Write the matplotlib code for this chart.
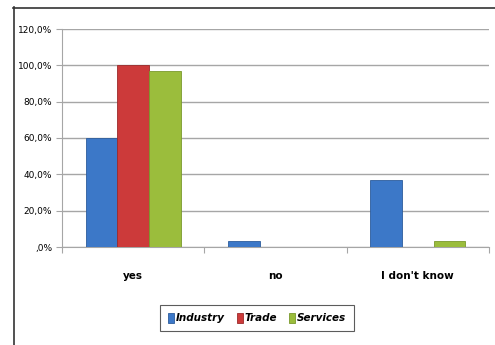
import numpy as np
import matplotlib.pyplot as plt
from matplotlib.lines import Line2D
from matplotlib.ticker import FuncFormatter

categories = ['yes', 'no', "I don't know"]
series_names = ['Industry', 'Trade', 'Services']
industry = [60.0, 3.3, 36.7]
trade = [100.0, 0.0, 0.0]
services = [96.7, 0.0, 3.3]
y_ticks = [0, 20, 40, 60, 80, 100, 120]

colors = ['#3c78c8', '#cc3a3a', '#9bbd3c']
edges = ['#2c5c9c', '#9c2a2a', '#7a9a2c']

W, H = 495, 345
fig = plt.figure(figsize=(W / 100, H / 100), dpi=100)
ax = fig.add_axes([62 / W, 1 - 247 / H, 427 / W, 218 / H])

x = np.arange(len(categories))
bw = 0.222
for i, (vals, c, e) in enumerate(zip([industry, trade, services], colors, edges)):
    ax.bar(x + (i - 1) * bw, [v / 100 for v in vals], width=bw, color=c,
           edgecolor=e, linewidth=0.6, label=series_names[i], zorder=3)


def pct(v, pos):
    s = f'{v * 100:.1f}%'.replace('.', ',')
    return s.lstrip('0') if v == 0 else s


ax.set_xlim(-0.5, 2.5)
ax.set_ylim(0, 1.2)
ax.set_yticks([t / 100 for t in y_ticks])
ax.yaxis.set_major_formatter(FuncFormatter(pct))
ax.grid(axis='y', color='#a6a6a6', linewidth=1, zorder=0)

ax.set_xticks([-0.5, 0.5, 1.5, 2.5])
ax.set_xticklabels([])
ax.set_xticks(x, minor=True)
ax.set_xticklabels(categories, minor=True, fontsize=7.5, fontweight='bold')
ax.tick_params(axis='x', which='minor', length=0, pad=17)
ax.tick_params(axis='x', which='major', length=4, color='#a6a6a6', direction='out')
ax.tick_params(axis='y', length=4, color='#a6a6a6', labelsize=6.5, pad=3)

for s in ['top', 'right']:
    ax.spines[s].set_visible(False)
for s in ['left', 'bottom']:
    ax.spines[s].set_color('#a6a6a6')

leg = ax.legend(loc='center', bbox_to_anchor=(257 / W, 1 - 318 / H),
                bbox_transform=fig.transFigure, ncol=3, frameon=True,
                fancybox=False, edgecolor='#333333', handlelength=0.6,
                handleheight=1.1, handletextpad=0.2, columnspacing=1.1,
                borderpad=0.75, prop={'size': 7.5, 'weight': 'bold', 'style': 'italic'})
leg.get_frame().set_linewidth(0.8)

# outer frame of the chart area
fig.add_artist(Line2D([13.5 / W, 13.5 / W], [0, 1 - 7 / H], color='#333333', linewidth=1.2))
fig.add_artist(Line2D([13 / W, 1], [1 - 7.5 / H, 1 - 7.5 / H], color='#333333', linewidth=1.2))

fig.savefig('out.png', dpi=100)
